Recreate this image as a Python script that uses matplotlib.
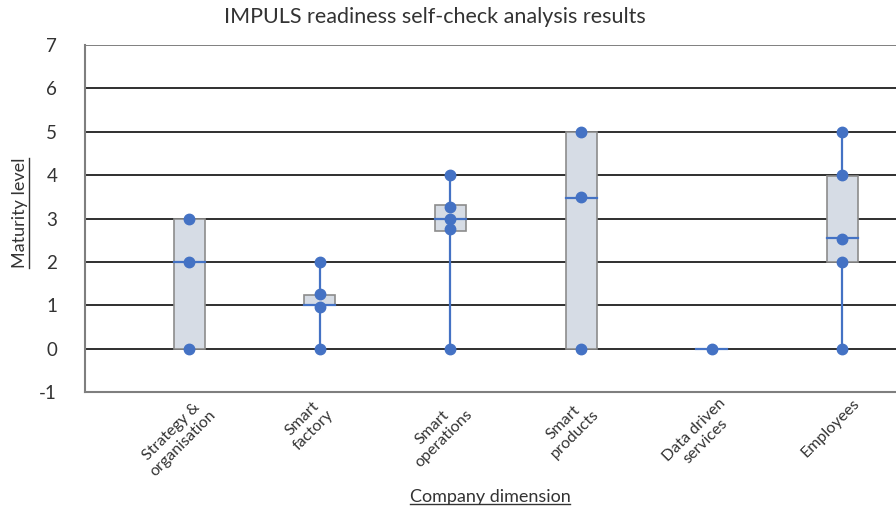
import matplotlib
matplotlib.use("Agg")
import matplotlib.pyplot as plt
from matplotlib.lines import Line2D
from matplotlib.patches import Rectangle

plt.rcParams['font.family'] = ['Lato', 'DejaVu Sans']

categories = ["Strategy &\norganisation", "Smart\nfactory", "Smart\noperations",
              "Smart\nproducts", "Data driven\nservices", "Employees"]
points = [
    [0, 2, 3],
    [0, 0.97, 1.25, 2],
    [0, 2.75, 3, 3.27, 4],
    [0, 3.5, 5],
    [0],
    [0, 2, 2.52, 4, 5],
]
q1 = [0, 1.0, 2.72, 0, 0, 2.0]
q3 = [3, 1.24, 3.32, 5, 0, 3.97]
median = [2, 1.0, 3.0, 3.47, 0, 2.55]
wmin = [0, 0, 0, 0, 0, 0]
wmax = [3, 2, 4, 5, 0, 5]
yticks = [-1, 0, 1, 2, 3, 4, 5, 6, 7]

blue = "#4472C4"
fill = "#D6DCE5"
edge = "#8C8C8C"

fig = plt.figure(figsize=(8.96, 5.12), dpi=100)
ax = fig.add_axes([85/896, 1-392/512, 1-85/896, (392-45)/512])
ax.set_xlim(-0.796, 5.41)
ax.set_ylim(-1, 7)

for y in yticks[1:-1]:
    ax.axhline(y, color="#2f2f2f", lw=1.4, zorder=1)
ax.axhline(7, color="#7f7f7f", lw=1.4, zorder=1)

bw = 0.237
for i in range(len(categories)):
    ax.plot([i, i], [wmin[i], q1[i]], color=blue, lw=1.6, zorder=2)
    ax.plot([i, i], [q3[i], wmax[i]], color=blue, lw=1.6, zorder=2)
    h = q3[i] - q1[i]
    if h > 0:
        ax.add_patch(Rectangle((i - bw/2, q1[i]), bw, h, facecolor=fill,
                               edgecolor=edge, lw=1.2, zorder=3))
    ax.plot([i - bw/2, i + bw/2], [median[i], median[i]], color=blue, lw=1.6, zorder=4)
    ax.plot([i]*len(points[i]), points[i], 'o', color=blue, ms=7.5, zorder=5)

for s in ['top', 'right']:
    ax.spines[s].set_visible(False)
for s in ['left', 'bottom']:
    ax.spines[s].set_color("#7f7f7f")
    ax.spines[s].set_linewidth(1.5)

ax.set_yticks(yticks)
ax.set_yticklabels([str(v) for v in yticks], fontsize=13.5, color="#333333")
ax.tick_params(axis='y', length=0, pad=20)
ax.set_xticks(range(len(categories)))
ax.set_xticklabels([])
ax.tick_params(axis='x', length=0)

for i, c in enumerate(categories):
    ax.annotate(c, xy=(i, -1), xycoords='data', xytext=(-12, -4), textcoords='offset pixels',
                rotation=45, ha='center', va='top', multialignment='center',
                fontsize=11.5, color="#333333")

title = fig.text(435/896, 1-17/512, "IMPULS readiness self-check analysis results",
                 ha='center', va='center', fontsize=15.5, color="#333333")
xl = fig.text(490/896, 1-497/512, "Company dimension", ha='center', va='center',
              fontsize=13, color="#333333")
yl = fig.text(20/896, 1-213/512, "Maturity level", ha='center', va='center',
              rotation=90, fontsize=13, color="#333333")

fig.canvas.draw()
r = fig.canvas.get_renderer()
bb = xl.get_window_extent(r)
W, H = fig.bbox.width, fig.bbox.height
fig.add_artist(Line2D([bb.x0/W, bb.x1/W], [(bb.y0+1)/H, (bb.y0+1)/H],
                      color="#333333", lw=1.0, transform=fig.transFigure))
bb = yl.get_window_extent(r)
fig.add_artist(Line2D([(bb.x1+1)/W, (bb.x1+1)/W], [bb.y0/H, bb.y1/H],
                      color="#333333", lw=1.0, transform=fig.transFigure))

fig.savefig("out.png", dpi=100)
